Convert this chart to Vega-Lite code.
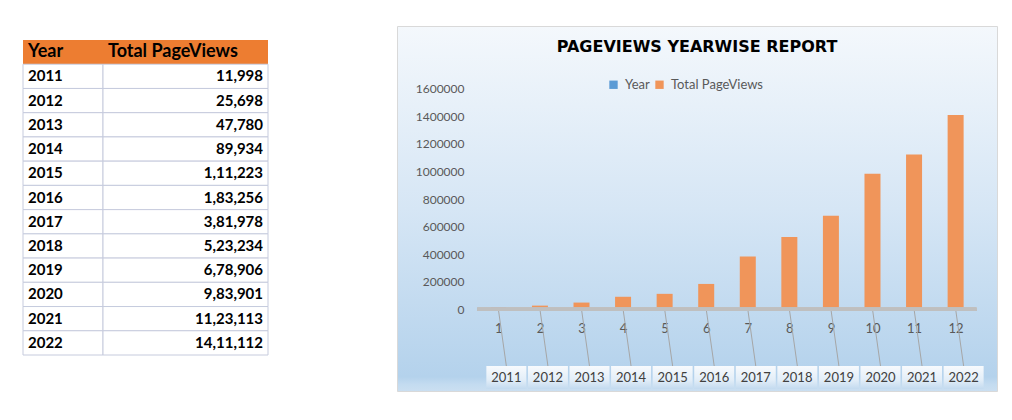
{
  "$schema": "https://vega.github.io/schema/vega-lite/v6.json",
  "padding": {"left": 22, "top": 25, "right": 0, "bottom": 0},
  "spacing": 127,
  "background": "white",
  "config": {"font": "Lato", "view": {"stroke": null}},
  "datasets": {
    "pv": [
      {"Index": 1, "Year": 2011, "PageViews": 11998, "Label": "11,998"},
      {"Index": 2, "Year": 2012, "PageViews": 25698, "Label": "25,698"},
      {"Index": 3, "Year": 2013, "PageViews": 47780, "Label": "47,780"},
      {"Index": 4, "Year": 2014, "PageViews": 89934, "Label": "89,934"},
      {"Index": 5, "Year": 2015, "PageViews": 111223, "Label": "1,11,223"},
      {"Index": 6, "Year": 2016, "PageViews": 183256, "Label": "1,83,256"},
      {"Index": 7, "Year": 2017, "PageViews": 381978, "Label": "3,81,978"},
      {"Index": 8, "Year": 2018, "PageViews": 523234, "Label": "5,23,234"},
      {"Index": 9, "Year": 2019, "PageViews": 678906, "Label": "6,78,906"},
      {"Index": 10, "Year": 2020, "PageViews": 983901, "Label": "9,83,901"},
      {"Index": 11, "Year": 2021, "PageViews": 1123113, "Label": "11,23,113"},
      {"Index": 12, "Year": 2022, "PageViews": 1411112, "Label": "14,11,112"}
    ],
    "header": [{"Year": "Year", "Label": "Total PageViews"}]
  },
  "hconcat": [
    {
      "width": 245,
      "height": 329,
      "view": {"stroke": null, "fill": "white"},
      "encoding": {
        "y": {
          "field": "Year",
          "type": "ordinal",
          "scale": {"domain": ["Year", 2011, 2012, 2013, 2014, 2015, 2016, 2017, 2018, 2019, 2020, 2021, 2022], "range": [14, 329], "paddingInner": 0, "paddingOuter": 0},
          "axis": null
        }
      },
      "layer": [
        {
          "data": {"name": "header"},
          "mark": {"type": "rect", "fill": "#ED7D31"},
          "encoding": {
            "x": {"datum": 0, "type": "quantitative", "scale": {"domain": [0, 245], "nice": false, "zero": false}, "axis": null},
            "x2": {"datum": 245}
          }
        },
        {
          "data": {"name": "header"},
          "mark": {"type": "text", "align": "left", "baseline": "middle", "fontSize": 18, "fontWeight": "bold", "color": "#000000", "font": "Lato"},
          "encoding": {"x": {"datum": 5, "type": "quantitative"}, "text": {"field": "Year"}}
        },
        {
          "data": {"name": "header"},
          "mark": {"type": "text", "align": "left", "baseline": "middle", "fontSize": 18, "fontWeight": "bold", "color": "#000000", "font": "Lato"},
          "encoding": {"x": {"datum": 85, "type": "quantitative"}, "text": {"field": "Label"}}
        },
        {
          "data": {"name": "pv"},
          "mark": {"type": "rect", "fill": "white", "stroke": "#C6CBDD", "strokeWidth": 1},
          "encoding": {"x": {"datum": 0, "type": "quantitative"}, "x2": {"datum": 80}}
        },
        {
          "data": {"name": "pv"},
          "mark": {"type": "rect", "fill": "white", "stroke": "#C6CBDD", "strokeWidth": 1},
          "encoding": {"x": {"datum": 80, "type": "quantitative"}, "x2": {"datum": 245}}
        },
        {
          "data": {"name": "pv"},
          "mark": {"type": "text", "align": "left", "baseline": "middle", "fontSize": 15, "fontWeight": "bold", "color": "#000000", "font": "Lato"},
          "encoding": {"x": {"datum": 5, "type": "quantitative"}, "text": {"field": "Year"}}
        },
        {
          "data": {"name": "pv"},
          "mark": {"type": "text", "align": "right", "baseline": "middle", "fontSize": 15, "fontWeight": "bold", "color": "#000000", "font": "Lato"},
          "encoding": {"x": {"datum": 240, "type": "quantitative"}, "text": {"field": "Label"}}
        }
      ]
    },
    {
      "width": 600,
      "height": 365,
      "data": {"name": "pv"},
      "view": {
        "stroke": "#D9D9D9",
        "strokeWidth": 1,
        "fill": {
          "gradient": "linear", "x1": 0, "y1": 0, "x2": 0, "y2": 1,
          "stops": [
            {"offset": 0, "color": "#F4F8FC"},
            {"offset": 0.5, "color": "#D6E6F5"},
            {"offset": 0.96, "color": "#B4D2EC"},
            {"offset": 0.98, "color": "#C3DBF0"},
            {"offset": 1, "color": "#CBDFF1"}
          ]
        }
      },
      "title": {
        "text": "PAGEVIEWS YEARWISE REPORT",
        "offset": -42,
        "anchor": "middle",
        "baseline": "alphabetic",
        "font": "DejaVu Sans",
        "fontSize": 16,
        "fontWeight": "bold",
        "color": "#000000"
      },
      "layer": [
        {
          "mark": {"type": "rule", "color": "#A6A6A6", "strokeWidth": 1, "x2Offset": 8},
          "encoding": {
            "x": {
              "field": "Index",
              "type": "quantitative",
              "scale": {"domain": [-1.318, 12.875], "nice": false, "zero": false},
              "axis": {
                "values": [1, 2, 3, 4, 5, 6, 7, 8, 9, 10, 11, 12],
                "format": "d",
                "title": null,
                "orient": "bottom",
                "domain": false,
                "ticks": false,
                "tickSize": 0,
                "grid": false,
                "labelPadding": -63,
                "labelBaseline": "middle",
                "labelFont": "Lato",
                "labelFontSize": 13,
                "labelColor": "#595959"
              }
            },
            "x2": {"field": "Index"},
            "y": {
              "datum": 0,
              "type": "quantitative",
              "scale": {"domain": [-594500, 2056750], "nice": false, "zero": false},
              "axis": {
                "values": [0, 200000, 400000, 600000, 800000, 1000000, 1200000, 1400000, 1600000],
                "format": "d",
                "title": null,
                "domain": false,
                "ticks": false,
                "tickSize": 0,
                "grid": false,
                "labelPadding": -67,
                "labelFont": "Lato",
                "labelFontSize": 12,
                "labelColor": "#595959"
              }
            },
            "y2": {"datum": -413250}
          }
        },
        {
          "mark": {"type": "bar", "size": 16},
          "encoding": {
            "x": {"field": "Index", "type": "quantitative"},
            "y": {"field": "PageViews", "type": "quantitative"},
            "color": {
              "datum": "Total PageViews",
              "type": "nominal",
              "scale": {"domain": ["Year", "Total PageViews"], "range": ["#5B9BD5", "#F0955A"]},
              "legend": {
                "orient": "none",
                "legendX": 584,
                "legendY": 52,
                "direction": "horizontal",
                "title": null,
                "symbolType": "square",
                "symbolSize": 70,
                "symbolStrokeWidth": 0,
                "labelFont": "Lato",
                "labelFontSize": 13,
                "labelColor": "#595959",
                "labelOffset": 5,
                "columnPadding": 3,
                "padding": 0
              }
            }
          }
        },
        {
          "mark": {"type": "rule", "color": "#BFBFBF", "strokeWidth": 3},
          "encoding": {
            "x": {"datum": 0.5, "type": "quantitative"},
            "x2": {"datum": 12.5},
            "y": {"datum": 0, "type": "quantitative"}
          }
        },
        {
          "mark": {
            "type": "bar",
            "size": 40,
            "xOffset": 8,
            "fill": {
              "gradient": "linear", "x1": 0, "y1": 0, "x2": 0, "y2": 1,
              "stops": [
                {"offset": 0, "color": "#F7FAFD"},
                {"offset": 0.6, "color": "#E3EEF8"},
                {"offset": 1, "color": "#C3DAEF"}
              ]
            }
          },
          "encoding": {
            "x": {"field": "Index", "type": "quantitative"},
            "y": {"datum": -413250, "type": "quantitative"},
            "y2": {"datum": -580000}
          }
        },
        {
          "mark": {"type": "text", "xOffset": 8, "baseline": "middle", "align": "center", "font": "Lato", "fontSize": 13, "color": "#404040"},
          "encoding": {
            "x": {"field": "Index", "type": "quantitative"},
            "y": {"datum": -500250, "type": "quantitative"},
            "text": {"field": "Year"}
          }
        }
      ]
    }
  ]
}
